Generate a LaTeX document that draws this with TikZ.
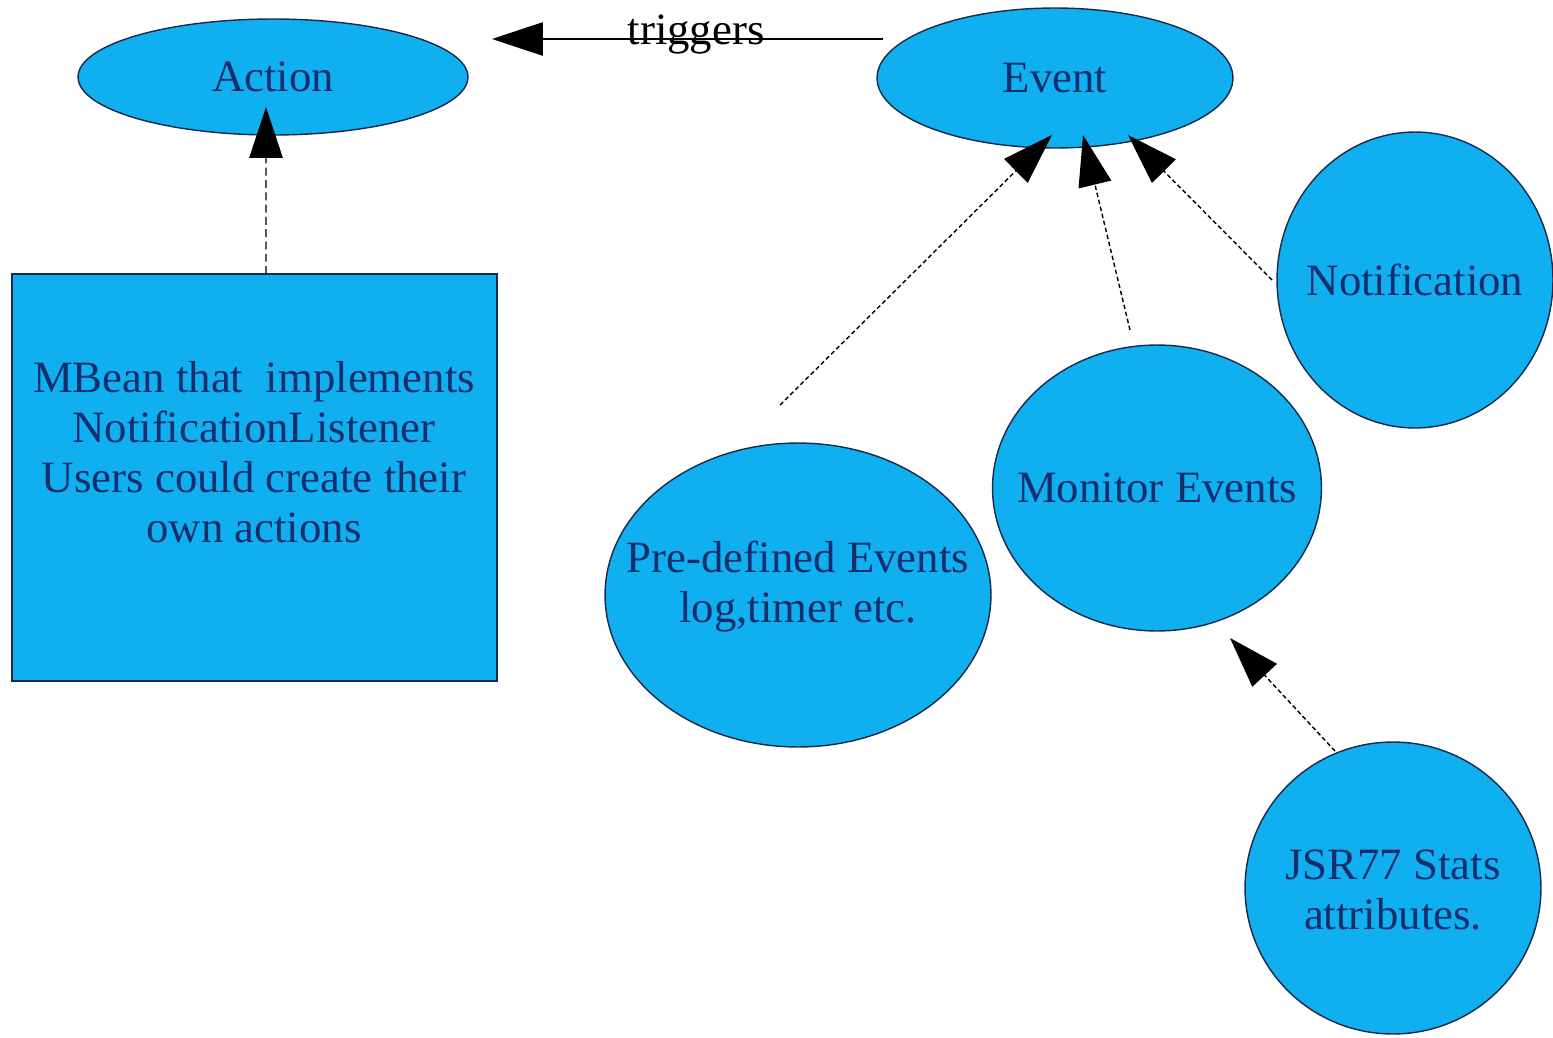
\documentclass[tikz,border=0pt]{standalone}
\usepackage{fontspec}
\setmainfont{Liberation Serif}
\usetikzlibrary{arrows.meta,shapes.geometric}
\definecolor{skyfill}{RGB}{16,176,240}
\definecolor{navytext}{RGB}{22,45,110}
\definecolor{edgecol}{RGB}{25,40,75}
\tikzset{
  shapebase/.style={fill=skyfill, draw=edgecol, line width=0.8pt, inner sep=0pt, outer sep=0pt},
  oval/.style={shapebase, ellipse},
  boxst/.style={shapebase, rectangle},
  txt/.style={text=navytext, font=\fontsize{25.5}{28.5}\selectfont, align=center, inner sep=0pt},
  headtip/.style={-{Triangle[length=29pt,width=19pt]}},
  conn/.style={headtip, line width=0.8pt, black},
  dashA/.style={conn, dash pattern=on 4.5pt off 2.5pt},
  dashB/.style={conn, dash pattern=on 2.5pt off 1.6pt},
}
\begin{document}
\begin{tikzpicture}[x=0.02cm, y=-0.02cm]
\useasboundingbox (0,0) rectangle (1553,1038);
% shapes
\node[oval, minimum width=7.8cm, minimum height=2.32cm] (act) at (273,77) {};
\node[oval, minimum width=7.12cm, minimum height=2.8cm] (ev) at (1055,78) {};
\node[boxst, minimum width=9.7cm, minimum height=8.14cm] (box) at (254.5,477.5) {};
\node[oval, minimum width=7.72cm, minimum height=6.08cm] (pre) at (798,595) {};
\node[oval, minimum width=6.58cm, minimum height=5.72cm] (mon) at (1157,488) {};
\node[oval, minimum width=5.52cm, minimum height=5.92cm] (notif) at (1415,280) {};
\node[oval, minimum width=5.92cm, minimum height=5.84cm] (jsr) at (1393,888) {};
% texts
\node[txt] (acttxt) at (act.center) {Action};
\node[txt] (evtxt) at (ev.center) {Event};
\node[txt] (boxtxt) at (254,452) {MBean that\ \ implements\\NotificationListener\\Users could create their\\own actions};
\node[txt] (pretxt) at (798,587) {Pre-defined Events\\log,timer etc.};
\node[txt] (montxt) at (mon.center) {Monitor Events};
\node[txt] (notiftxt) at (notif.center) {Notification};
\node[txt] (jsrtxt) at (1393,890) {JSR77 Stats\\attributes.};
% connectors
\coordinate (trigtip) at (492,39);
\draw[conn] ([shift={(6,-39)}]ev.west) -- node[pos=0.478, anchor=base, yshift=-3.2pt, text=black, font=\fontsize{25.5}{28.5}\selectfont, inner sep=0pt] (trig) {triggers} (trigtip);
\draw[dashA] ([shift={(11.5,0)}]box.north) -- ([shift={(-7,-28)}]act.south);
\draw[dashB] ([shift={(-18,-38)}]pre.north) -- ([shift={(-3,-13)}]ev.south);
\draw[dashB] ([shift={(-27,-15)}]mon.north) -- ([shift={(28,-13)}]ev.south);
\draw[dashB] ([shift={(-5,0)}]notif.west) -- ([shift={(73,-13)}]ev.south);
\draw[dashB] ([shift={(-58,9)}]jsr.north) -- ([shift={(73,7)}]mon.south);
\end{tikzpicture}
\end{document}
